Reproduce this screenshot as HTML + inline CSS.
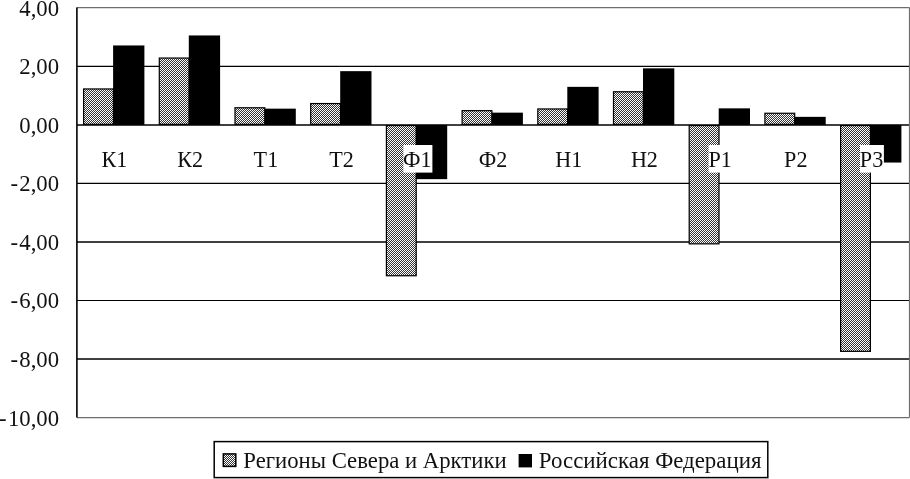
<!DOCTYPE html>
<html lang="ru"><head><meta charset="utf-8"><title>Диаграмма</title>
<style>
html,body{margin:0;padding:0;background:#fff;overflow:hidden;}
svg{display:block;will-change:transform;}
text{font-family:"Liberation Serif","DejaVu Serif",serif;fill:#111;}
</style></head><body>
<svg width="910" height="479" viewBox="0 0 910 479">
<defs>
<pattern id="h" width="2" height="2" patternUnits="userSpaceOnUse">
<rect width="2" height="2" fill="#fff"/>
<path d="M-1,1 L1,-1 M0,2 L2,0 M1,3 L3,1" stroke="#000" stroke-width="0.8"/>
</pattern>
</defs>
<rect width="910" height="479" fill="#fff"/>

<line x1="76.9" x2="909.5" y1="7.6" y2="7.6" stroke="#6e6e6e" stroke-width="1.2"/>
<text transform="translate(59.1,15.60) scale(0.955,1)" font-size="23.8" text-anchor="end">4,00</text>
<line x1="76.9" x2="909.5" y1="66.3" y2="66.3" stroke="#000" stroke-width="1.35"/>
<text transform="translate(59.1,74.17) scale(0.955,1)" font-size="23.8" text-anchor="end">2,00</text>
<line x1="76.9" x2="909.5" y1="124.95" y2="124.95" stroke="#000" stroke-width="1.6"/>
<text transform="translate(59.1,132.74) scale(0.955,1)" font-size="23.8" text-anchor="end">0,00</text>
<line x1="76.9" x2="909.5" y1="183.4" y2="183.4" stroke="#000" stroke-width="1.15"/>
<text transform="translate(59.1,191.31) scale(0.955,1)" font-size="23.8" text-anchor="end">-<tspan dx="1.4">2,00</tspan></text>
<line x1="76.9" x2="909.5" y1="242.0" y2="242.0" stroke="#000" stroke-width="1.6"/>
<text transform="translate(59.1,249.88) scale(0.955,1)" font-size="23.8" text-anchor="end">-<tspan dx="1.4">4,00</tspan></text>
<line x1="76.9" x2="909.5" y1="300.5" y2="300.5" stroke="#000" stroke-width="1.15"/>
<text transform="translate(59.1,308.45) scale(0.955,1)" font-size="23.8" text-anchor="end">-<tspan dx="1.4">6,00</tspan></text>
<line x1="76.9" x2="909.5" y1="359.0" y2="359.0" stroke="#000" stroke-width="1.6"/>
<text transform="translate(59.1,367.02) scale(0.955,1)" font-size="23.8" text-anchor="end">-<tspan dx="1.4">8,00</tspan></text>
<line x1="76.9" x2="909.5" y1="417.6" y2="417.6" stroke="#6e6e6e" stroke-width="1.2"/>
<text transform="translate(59.1,425.59) scale(0.955,1)" font-size="23.8" text-anchor="end">-<tspan dx="1.4">10,00</tspan></text>
<line x1="76.9" x2="76.9" y1="7.6" y2="417.6" stroke="#000" stroke-width="1.6"/>
<line x1="909.5" x2="909.5" y1="7.6" y2="417.6" stroke="#6e6e6e" stroke-width="1.2"/>
<rect x="83.60" y="88.95" width="29.80" height="35.40" fill="url(#h)" stroke="#000" stroke-width="1.2"/>
<rect x="113.10" y="45.45" width="31.30" height="79.50" fill="#000"/>
<rect x="159.30" y="58.05" width="29.80" height="66.30" fill="url(#h)" stroke="#000" stroke-width="1.2"/>
<rect x="188.80" y="35.45" width="31.30" height="89.50" fill="#000"/>
<rect x="235.00" y="107.75" width="29.80" height="16.60" fill="url(#h)" stroke="#000" stroke-width="1.2"/>
<rect x="264.50" y="108.65" width="31.30" height="16.30" fill="#000"/>
<rect x="310.70" y="103.55" width="29.80" height="20.80" fill="url(#h)" stroke="#000" stroke-width="1.2"/>
<rect x="340.20" y="71.15" width="31.30" height="53.80" fill="#000"/>
<rect x="386.40" y="125.55" width="29.80" height="150.20" fill="url(#h)" stroke="#000" stroke-width="1.2"/>
<rect x="415.90" y="124.95" width="31.30" height="54.20" fill="#000"/>
<rect x="462.10" y="110.65" width="29.80" height="13.70" fill="url(#h)" stroke="#000" stroke-width="1.2"/>
<rect x="491.60" y="112.65" width="31.30" height="12.30" fill="#000"/>
<rect x="537.80" y="108.95" width="29.80" height="15.40" fill="url(#h)" stroke="#000" stroke-width="1.2"/>
<rect x="567.30" y="86.85" width="31.30" height="38.10" fill="#000"/>
<rect x="613.50" y="91.75" width="29.80" height="32.60" fill="url(#h)" stroke="#000" stroke-width="1.2"/>
<rect x="643.00" y="68.35" width="31.30" height="56.60" fill="#000"/>
<rect x="689.20" y="125.55" width="29.80" height="118.30" fill="url(#h)" stroke="#000" stroke-width="1.2"/>
<rect x="718.70" y="108.35" width="31.30" height="16.60" fill="#000"/>
<rect x="764.90" y="113.25" width="29.80" height="11.10" fill="url(#h)" stroke="#000" stroke-width="1.2"/>
<rect x="794.40" y="116.85" width="31.30" height="8.10" fill="#000"/>
<rect x="840.60" y="125.55" width="29.80" height="225.80" fill="url(#h)" stroke="#000" stroke-width="1.2"/>
<rect x="870.10" y="124.95" width="31.30" height="37.60" fill="#000"/>
<text transform="translate(114.50,167.0) scale(0.93,1)" font-size="23.8" text-anchor="middle">К1</text>
<text transform="translate(190.20,167.0) scale(0.93,1)" font-size="23.8" text-anchor="middle">К2</text>
<text transform="translate(265.90,167.0) scale(0.93,1)" font-size="23.8" text-anchor="middle">Т1</text>
<text transform="translate(341.60,167.0) scale(0.93,1)" font-size="23.8" text-anchor="middle">Т2</text>
<rect x="403.4" y="145" width="29.0" height="27.6" fill="#fff"/>
<text transform="translate(417.30,167.0) scale(0.93,1)" font-size="23.8" text-anchor="middle">Ф1</text>
<text transform="translate(493.00,167.0) scale(0.93,1)" font-size="23.8" text-anchor="middle">Ф2</text>
<text transform="translate(568.70,167.0) scale(0.93,1)" font-size="23.8" text-anchor="middle">Н1</text>
<text transform="translate(644.40,167.0) scale(0.93,1)" font-size="23.8" text-anchor="middle">Н2</text>
<rect x="708.6" y="145" width="23.9" height="27.6" fill="#fff"/>
<text transform="translate(720.10,167.0) scale(0.93,1)" font-size="23.8" text-anchor="middle">Р1</text>
<text transform="translate(795.80,167.0) scale(0.93,1)" font-size="23.8" text-anchor="middle">Р2</text>
<rect x="860.0" y="145" width="23.9" height="27.6" fill="#fff"/>
<text transform="translate(871.50,167.0) scale(0.93,1)" font-size="23.8" text-anchor="middle">Р3</text>
<rect x="214.2" y="441.6" width="553.6" height="36.0" fill="#fff" stroke="#000" stroke-width="1.5"/>
<rect x="223.3" y="453.9" width="12.5" height="12.5" fill="url(#h)" stroke="#000" stroke-width="1.5"/>
<text transform="translate(243.3,468.2) scale(0.955,1)" font-size="23.8">Регионы Севера и Арктики</text>
<rect x="518.6" y="454" width="13.4" height="13.4" fill="#000"/>
<text transform="translate(538.8,468.2) scale(0.962,1)" font-size="23.8">Российская Федерация</text>
</svg></body></html>
